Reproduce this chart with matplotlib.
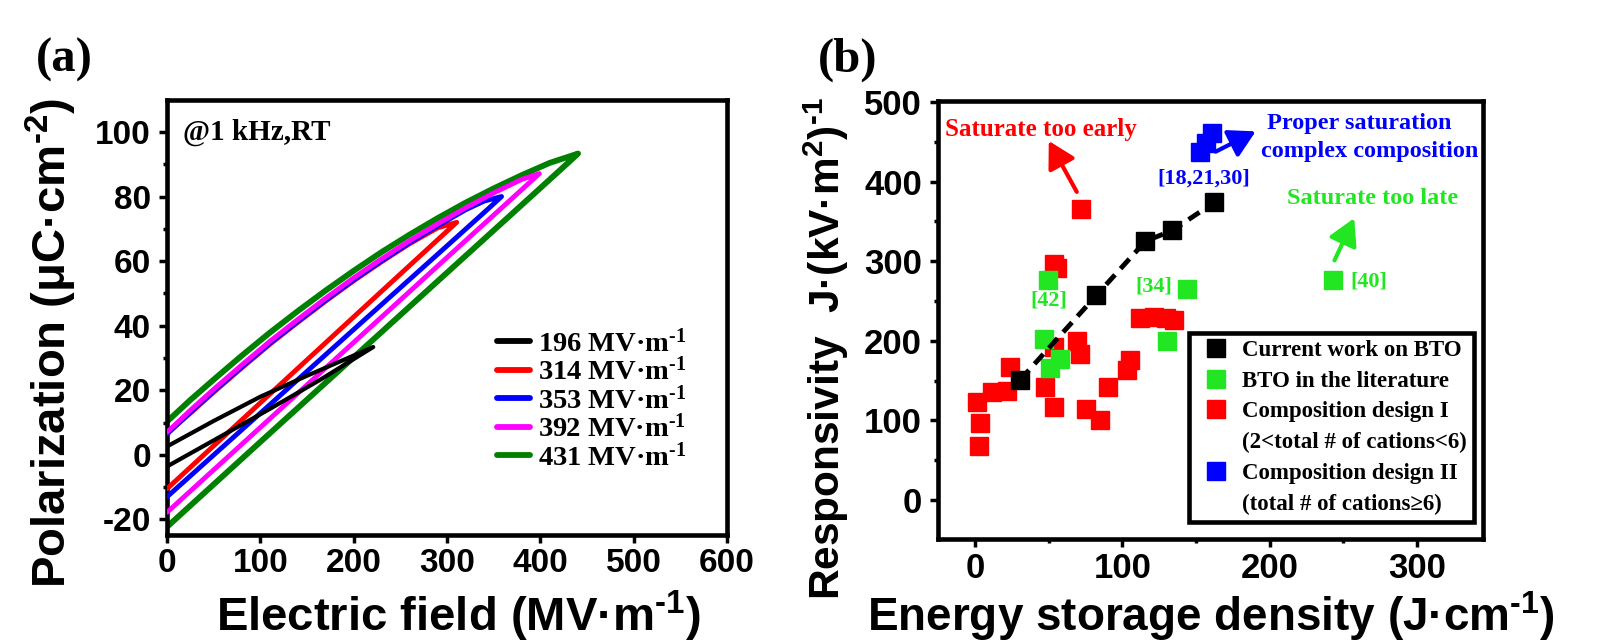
import matplotlib
matplotlib.use("Agg")
import matplotlib.pyplot as plt
from matplotlib.lines import Line2D
from matplotlib.ticker import MultipleLocator

SANS = "Liberation Sans"
SERIF = "Liberation Serif"

plt.rcParams["font.family"] = [SANS, "DejaVu Sans"]
plt.rcParams["font.weight"] = "bold"
plt.rcParams["axes.unicode_minus"] = False
plt.rcParams["mathtext.default"] = "regular"

# ---------------- panel (a): unipolar P-E loops ----------------
# rising branch (E: 0 -> Emax) then falling branch (E: Emax -> 0)
e_rise_196 = [0, 55, 110, 165, 221]
p_rise_196 = [-3.6, 5.3, 14.2, 23.4, 33.4]
e_fall_196 = [221, 190, 150, 100, 50, 0]
p_fall_196 = [33.4, 29.5, 24.5, 18.0, 10.5, 2.6]

e_rise_314 = [0, 100, 200, 290, 310.4]
p_rise_314 = [-10.5, 16.1, 42.7, 66.6, 72.0]
e_fall_314 = [310.4, 290, 260, 230, 200, 170, 140, 110, 80, 50, 25, 0]
p_fall_314 = [72.0, 70.3, 65.4, 59.8, 53.9, 47.6, 41.0, 34.2, 26.9, 19.4, 12.9, 6.7]

e_rise_353 = [0, 100, 200, 300, 345, 358.5]
p_rise_353 = [-13.0, 12.9, 38.8, 64.7, 76.4, 80.0]
e_fall_353 = [358.5, 340, 320, 290, 260, 230, 200, 170, 140, 110, 80, 50, 25, 0]
p_fall_353 = [80.0, 78.6, 75.9, 70.9, 65.7, 60.1, 54.2, 47.9, 41.3, 34.5, 27.2, 19.7, 13.2, 6.4]

e_rise_392 = [0, 100, 200, 300, 385, 399]
p_rise_392 = [-17.8, 8.5, 34.8, 61.1, 83.4, 87.1]
e_fall_392 = [399, 380, 350, 320, 290, 260, 230, 200, 170, 140, 110, 80, 50, 25, 0]
p_fall_392 = [87.1, 85.3, 81.1, 76.5, 71.5, 66.3, 60.7, 54.8, 48.5, 41.9, 35.1, 27.8, 20.3, 13.8, 7.0]

e_rise_431 = [0, 100, 200, 300, 400, 430, 440.5]
p_rise_431 = [-22.3, 4.0, 30.2, 56.4, 82.6, 90.5, 93.3]
e_fall_431 = [440.5, 410, 380, 350, 320, 290, 260, 230, 200, 170, 140, 110, 80, 50, 25, 0]
p_fall_431 = [93.3, 90.4, 86.6, 82.5, 78.1, 73.3, 68.2, 62.8, 57.0, 50.9, 44.5, 37.8, 30.7, 23.3, 17.0, 10.3]

loop_fields = ["196", "314", "353", "392", "431"]
loop_colors = ["black", "red", "blue", "magenta", "green"]

# ---------------- panel (b): responsivity vs energy density ----------------
current_x = [30.6, 82.3, 115.6, 133.8, 162.5]
current_y = [151, 257, 325, 338.5, 374]

lit_x = [49.5, 46.5, 50.5, 57.5, 130.5, 144, 243]
lit_y = [276, 202, 166, 177, 200, 265.5, 276]

design1_x = [71.9, 53.5, 55.5, 53.7, 69.2, 71.4, 23.8, 1.6, 11.3, 21.5, 3.4, 2.7,
             47.2, 53.7, 75.3, 85.0, 90.0, 103.2, 105.4, 112.2, 121.3, 129.3, 134.9]
design1_y = [366, 297, 292, 191.7, 200, 183, 166.7, 123, 136, 137.5, 96.7, 67.5,
             141.7, 116.7, 114.6, 100.8, 141.7, 163.3, 175.8, 228.3, 230, 228.3, 225.8]

design2_x = [153, 157, 160.5]
design2_y = [437.5, 448, 460.5]

GREEN_B = "#22e622"
HY = "\u2010"  # short hyphen for superscripts

fig = plt.figure(figsize=(15.98, 6.44), dpi=100)
ax1 = fig.add_axes([0.1045, 0.1693, 0.3504, 0.6755])
ax2 = fig.add_axes([0.587, 0.163, 0.3411, 0.680])


def style_axes(ax, labelsize):
    for s in ax.spines.values():
        s.set_linewidth(3.3)
    ax.tick_params(which="both", direction="out", top=False, right=False,
                   width=2.5, labelsize=labelsize)
    ax.tick_params(which="major", length=5.5)
    ax.tick_params(which="minor", length=3)
    ax.tick_params(axis="x", pad=4)
    ax.tick_params(axis="y", pad=6)


# --- (a) ---
loops = [
    (e_rise_196 + e_fall_196, p_rise_196 + p_fall_196, 3.0, 6),
    (e_rise_314 + e_fall_314, p_rise_314 + p_fall_314, 3.5, 3),
    (e_rise_353 + e_fall_353, p_rise_353 + p_fall_353, 3.5, 4),
    (e_rise_392 + e_fall_392, p_rise_392 + p_fall_392, 3.5, 5),
    (e_rise_431 + e_fall_431, p_rise_431 + p_fall_431, 4.2, 2),
]
handles = []
for (ex, py, lw, z), fld, col in zip(loops, loop_fields, loop_colors):
    ln, = ax1.plot(ex, py, color=col, lw=lw, zorder=z, solid_joinstyle="round",
                   solid_capstyle="round", label=f"{fld} MV·m$^{{{HY}1}}$")
    handles.append(ln)

ax1.set_xlim(0, 600)
ax1.set_ylim(-24.8, 109.9)
ax1.xaxis.set_major_locator(MultipleLocator(100))
ax1.yaxis.set_major_locator(MultipleLocator(20))
ax1.yaxis.set_minor_locator(MultipleLocator(10))
style_axes(ax1, 24)

ax1.set_xlabel(f"Electric field (MV·m$^{{{HY}1}}$)", fontsize=34, fontweight="bold")
ax1.set_ylabel(f"Polarization (μC·cm$^{{{HY}2}}$)", fontsize=34, fontweight="bold")
ax1.xaxis.set_label_coords(0.52, -0.124)
ax1.yaxis.set_label_coords(-0.157, 0.442)

ax1.text(0.0286, 0.926, "@1 kHz,RT", transform=ax1.transAxes, family=SERIF,
         fontsize=21, fontweight="bold", va="center", ha="left")

leg1 = ax1.legend(handles=handles, loc="upper left", bbox_to_anchor=(0.589, 0.474),
                  frameon=False, borderpad=0, borderaxespad=0, handlelength=1.18,
                  handletextpad=0.26, labelspacing=0.0,
                  prop={"family": SERIF, "weight": "bold", "size": 20.5})
for h in leg1.get_lines():
    h.set_linewidth(4.2)

# --- (b) ---
ax2.plot(design1_x, design1_y, ls="none", marker="s", ms=13.5, color="red", zorder=3)
ax2.plot(lit_x, lit_y, ls="none", marker="s", ms=13.5, color=GREEN_B, zorder=4)
ax2.plot(current_x, current_y, ls="--", lw=3.5, dashes=(2.7, 1.7), marker="s",
         ms=13.5, color="black", zorder=5)
ax2.plot(design2_x, design2_y, ls="none", marker="s", ms=13.5, color="blue", zorder=5)

ax2.set_xlim(-25.2, 344.9)
ax2.set_ylim(-49, 501)
ax2.xaxis.set_major_locator(MultipleLocator(100))
ax2.xaxis.set_minor_locator(MultipleLocator(50))
ax2.yaxis.set_major_locator(MultipleLocator(100))
ax2.yaxis.set_minor_locator(MultipleLocator(50))
style_axes(ax2, 25)

ax2.set_xlabel(f"Energy storage density (J·cm$^{{{HY}1}}$)", fontsize=33, fontweight="bold")
ax2.set_ylabel(f"Responsivity  J·(kV·m$^{{2}}$)$^{{{HY}1}}$", fontsize=30.5, fontweight="bold")
ax2.xaxis.set_label_coords(0.5, -0.114)
ax2.yaxis.set_label_coords(-0.16, 0.434)

serif_b = dict(family=SERIF, fontweight="bold")
ax2.text(44.8, 465.5, "Saturate too early", color="red", fontsize=18,
         ha="center", va="center", **serif_b)
ax2.text(260.7, 473, "Proper saturation", color="blue", fontsize=17.5,
         ha="center", va="center", **serif_b)
ax2.text(268, 437.5, "complex composition", color="blue", fontsize=17.5,
         ha="center", va="center", **serif_b)
ax2.text(155, 403.6, "[18,21,30]", color="blue", fontsize=16,
         ha="center", va="center", **serif_b)
ax2.text(270, 379, "Saturate too late", color=GREEN_B, fontsize=17.5,
         ha="center", va="center", **serif_b)
ax2.text(255, 275, "[40]", color=GREEN_B, fontsize=16, ha="left", va="center", **serif_b)
ax2.text(121, 268.7, "[34]", color=GREEN_B, fontsize=16, ha="center", va="center", **serif_b)
ax2.text(50, 250, "[42]", color=GREEN_B, fontsize=16, ha="center", va="center", **serif_b)

arrows = [((69, 387), (50, 451), "red"),
          ((163.3, 437.5), (190.5, 463), "blue"),
          ((244, 301), (257.4, 354), GREEN_B)]
for tail, head, col in arrows:
    ax2.annotate("", xy=head, xytext=tail,
                 arrowprops=dict(arrowstyle="-|>,head_length=0.8,head_width=0.45",
                                 color=col, lw=3, mutation_scale=20,
                                 shrinkA=0, shrinkB=0))

blank = Line2D([], [], ls="none", marker=None)
leg_handles = [
    Line2D([], [], ls="none", marker="s", ms=13.5, color="black"),
    Line2D([], [], ls="none", marker="s", ms=13.5, color=GREEN_B),
    Line2D([], [], ls="none", marker="s", ms=13.5, color="red"),
    blank,
    Line2D([], [], ls="none", marker="s", ms=13.5, color="blue"),
    blank,
]
leg_labels = ["Current work on BTO", "BTO in the literature", "Composition design I",
              "(2<total # of cations<6)", "Composition design II",
              "(total # of cations≥6)"]
leg2 = ax2.legend(leg_handles, leg_labels, loc="upper left",
                  bbox_to_anchor=(0.4606, 0.47), borderaxespad=0, borderpad=0.3,
                  handlelength=1.78, handletextpad=0.24, labelspacing=0.42,
                  fancybox=False, edgecolor="black", framealpha=1,
                  prop={"family": SERIF, "weight": "bold", "size": 16.5})
leg2.get_frame().set_linewidth(3.3)

fig.text(36 / 1598, 1 - 60 / 644, "(a)", family=SERIF, fontweight="bold",
         fontsize=35, ha="left", va="center")
fig.text(818 / 1598, 1 - 60 / 644, "(b)", family=SERIF, fontweight="bold",
         fontsize=35, ha="left", va="center")

fig.savefig("out.png", dpi=100)
